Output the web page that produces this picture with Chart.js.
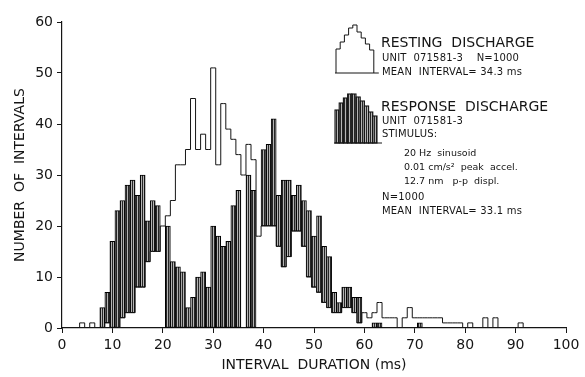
<!DOCTYPE html>
<html>
<head>
<meta charset="utf-8">
<script src="https://cdn.jsdelivr.net/npm/chart.js@4.4.1/dist/chart.umd.min.js"></script>
<style>
html, body { margin: 0; padding: 0; background: #fff; }
#wrap { width: 585px; height: 377px; }
</style>
</head>
<body>
<div id="wrap"><canvas id="histChart" width="585" height="377"></canvas></div>
<script>
// interval bins (ms), one count per 1 ms bin
const bins = [
     0,  1,  2,  3,  4,  5,  6,  7,  8,  9,
    10, 11, 12, 13, 14, 15, 16, 17, 18, 19,
    20, 21, 22, 23, 24, 25, 26, 27, 28, 29,
    30, 31, 32, 33, 34, 35, 36, 37, 38, 39,
    40, 41, 42, 43, 44, 45, 46, 47, 48, 49,
    50, 51, 52, 53, 54, 55, 56, 57, 58, 59,
    60, 61, 62, 63, 64, 65, 66, 67, 68, 69,
    70, 71, 72, 73, 74, 75, 76, 77, 78, 79,
    80, 81, 82, 83, 84, 85, 86, 87, 88, 89,
    90, 91, 92, 93, 94, 95, 96, 97, 98, 99
];

// resting discharge (open histogram)
const restingCounts = [
     0,  0,  0,  0,  1,  0,  1,  0,  0,  1,
     0,  0,  2,  3,  3,  8,  8, 13, 15, 15,
    20, 22, 25, 32, 32, 35, 45, 35, 38, 35,
    51, 32, 44, 39, 37, 34, 30, 36, 33, 18,
    20, 20, 20, 16, 12, 14, 19, 19, 16, 10,
     8,  7,  5,  4,  3,  3,  4,  4,  3,  1,
     3,  2,  3,  5,  2,  2,  2,  0,  2,  4,
     2,  2,  2,  2,  2,  2,  1,  1,  1,  1,
     0,  1,  0,  0,  2,  0,  2,  0,  0,  0,
     0,  1,  0,  0,  0,  0,  0,  0,  0,  0
];

// response discharge (hatched histogram)
const responseCounts = [
     0,  0,  0,  0,  0,  0,  0,  0,  4,  7,
    17, 23, 25, 28, 29, 26, 30, 21, 25, 24,
    20, 20, 13, 12, 11,  4,  6, 10, 11,  8,
    20, 18, 16, 17, 24, 27,  0, 30, 27,  0,
    35, 36, 41, 26, 29, 29, 26, 28, 25, 23,
    18, 22, 16, 14,  7,  5,  8,  8,  6,  6,
     3,  2,  1,  1,  0,  0,  0,  0,  0,  0,
     0,  1,  0,  0,  0,  0,  0,  0,  0,  0,
     0,  0,  0,  0,  0,  0,  0,  0,  0,  0,
     0,  0,  0,  0,  0,  0,  0,  0,  0,  0
];

const xTicks = [0, 10, 20, 30, 40, 50, 60, 70, 80, 90, 100];
const yTicks = [0, 10, 20, 30, 40, 50, 60];

const FONT = 'DejaVu Sans';
const INK = '#151515';

// vertical hatching used for the response histogram
function makeHatch() {
    const c = document.createElement('canvas');
    c.width = 2; c.height = 4;
    const g = c.getContext('2d');
    g.fillStyle = '#b4b4b4';
    g.fillRect(0, 0, 2, 4);
    g.fillStyle = '#262626';
    g.fillRect(0, 0, 1, 4);
    return g.createPattern(c, 'repeat');
}
const hatch = makeHatch();

// resting outline drawn as a step line through bin centres
const restingLine = bins.map((b, i) => ({ x: b, y: restingCounts[i] }));

// hatched part: from the resting level up where response is higher, else from zero
const responseBars = bins.map((b, i) => {
    const r = responseCounts[i];
    const q = restingCounts[i];
    if (r <= 0 || r === q) return { x: b, y: null };
    return { x: b, y: r > q ? [q, r] : [0, r] };
});

// little histogram icons for the key
function drawIcon(ctx, x0, base, colW, heights, filled) {
    ctx.save();
    if (filled) {
        heights.forEach((h, i) => {
            const x = x0 + i * colW;
            ctx.fillStyle = hatch;
            ctx.fillRect(x, base - h, colW, h);
            ctx.strokeStyle = INK;
            ctx.lineWidth = 1.1;
            ctx.strokeRect(x, base - h, colW, h);
        });
    } else {
        ctx.strokeStyle = INK;
        ctx.lineWidth = 1;
        ctx.beginPath();
        ctx.moveTo(x0, base);
        heights.forEach((h, i) => {
            const x = x0 + i * colW;
            ctx.lineTo(x, base - h);
            ctx.lineTo(x + colW, base - h);
        });
        ctx.lineTo(x0 + heights.length * colW, base);
        ctx.stroke();
    }
    ctx.strokeStyle = INK;
    ctx.lineWidth = 1;
    ctx.beginPath();
    ctx.moveTo(x0 - 1, base);
    ctx.lineTo(x0 + heights.length * colW + 5, base);
    ctx.stroke();
    ctx.restore();
}

function txt(ctx, s, x, y, size) {
    ctx.font = size + 'px "' + FONT + '"';
    ctx.fillText(s, x, y);
}

const keyPlugin = {
    id: 'key',
    afterDraw(chart) {
        const ctx = chart.ctx;
        drawIcon(ctx, 336, 73, 4.2, [24, 31, 38, 45, 48, 41, 35, 29, 23], false);
        drawIcon(ctx, 335, 143, 4.2, [33, 40, 45, 49, 49, 46, 42, 37, 31, 27], true);

        ctx.save();
        ctx.fillStyle = INK;
        ctx.textBaseline = 'middle';
        ctx.textAlign = 'left';
        ctx.letterSpacing = '0px';
        txt(ctx, 'RESTING  DISCHARGE', 381, 43, 14);
        txt(ctx, 'RESPONSE  DISCHARGE', 381, 107, 14);
        ctx.letterSpacing = '0.2px';
        txt(ctx, 'UNIT  071581-3    N=1000', 382, 58, 10);
        txt(ctx, 'MEAN  INTERVAL= 34.3 ms', 382, 72, 10);
        txt(ctx, 'UNIT  071581-3', 382, 121, 10);
        txt(ctx, 'STIMULUS:', 382, 134, 10);
        ctx.letterSpacing = '0px';
        txt(ctx, '20 Hz  sinusoid', 404, 154, 9.5);
        txt(ctx, '0.01 cm/s\u00b2  peak  accel.', 404, 168, 9.5);
        txt(ctx, '12.7 nm   p-p  displ.', 404, 182, 9.5);
        ctx.letterSpacing = '0.2px';
        txt(ctx, 'N=1000', 382, 197, 10);
        txt(ctx, 'MEAN  INTERVAL= 33.1 ms', 382, 211, 10);
        ctx.restore();
    }
};

const ctx = document.getElementById('histChart').getContext('2d');
const histChart = new Chart(ctx, {
    type: 'bar',
    data: {
        datasets: [
            {
                type: 'line',
                label: 'Resting discharge',
                data: restingLine,
                stepped: 'middle',
                borderColor: INK,
                borderWidth: 1,
                pointRadius: 0,
                fill: false,
                order: 0
            },
            {
                type: 'bar',
                label: 'Response discharge',
                data: responseBars,
                backgroundColor: hatch,
                borderColor: '#000',
                borderWidth: 1,
                borderSkipped: false,
                barPercentage: 1,
                categoryPercentage: 1,
                order: 1
            }
        ]
    },
    options: {
        responsive: false,
        devicePixelRatio: 1,
        animation: false,
        layout: { padding: { left: 0, right: 19, top: 22, bottom: 0 } },
        plugins: {
            legend: { display: false },
            tooltip: { enabled: false }
        },
        scales: {
            x: {
                type: 'linear',
                min: 0,
                max: 100,
                offset: false,
                afterBuildTicks: s => { s.ticks = xTicks.map(v => ({ value: v })); },
                afterFit: s => { s.height = 49; },
                grid: { drawOnChartArea: false, offset: false, tickLength: 5, color: INK, lineWidth: 1 },
                border: { display: true, color: INK, width: 1.2 },
                ticks: { color: INK, padding: 4, maxRotation: 0, autoSkip: false, font: { family: FONT, size: 14 } },
                title: {
                    display: true,
                    text: 'INTERVAL  DURATION (ms)',
                    color: INK,
                    font: { family: FONT, size: 14 },
                    padding: { top: 0, bottom: 3 }
                }
            },
            y: {
                min: 0,
                max: 60,
                afterBuildTicks: s => { s.ticks = yTicks.map(v => ({ value: v })); },
                afterFit: s => { s.width = 62; },
                grid: { drawOnChartArea: false, tickLength: 5, color: INK, lineWidth: 1 },
                border: { display: true, color: INK, width: 1.2 },
                ticks: { color: INK, padding: 4, font: { family: FONT, size: 14 } },
                title: {
                    display: true,
                    text: 'NUMBER  OF  INTERVALS',
                    color: INK,
                    font: { family: FONT, size: 14 },
                    padding: { top: 12, bottom: 0 }
                }
            }
        }
    },
    plugins: [keyPlugin]
});
</script>
</body>
</html>
